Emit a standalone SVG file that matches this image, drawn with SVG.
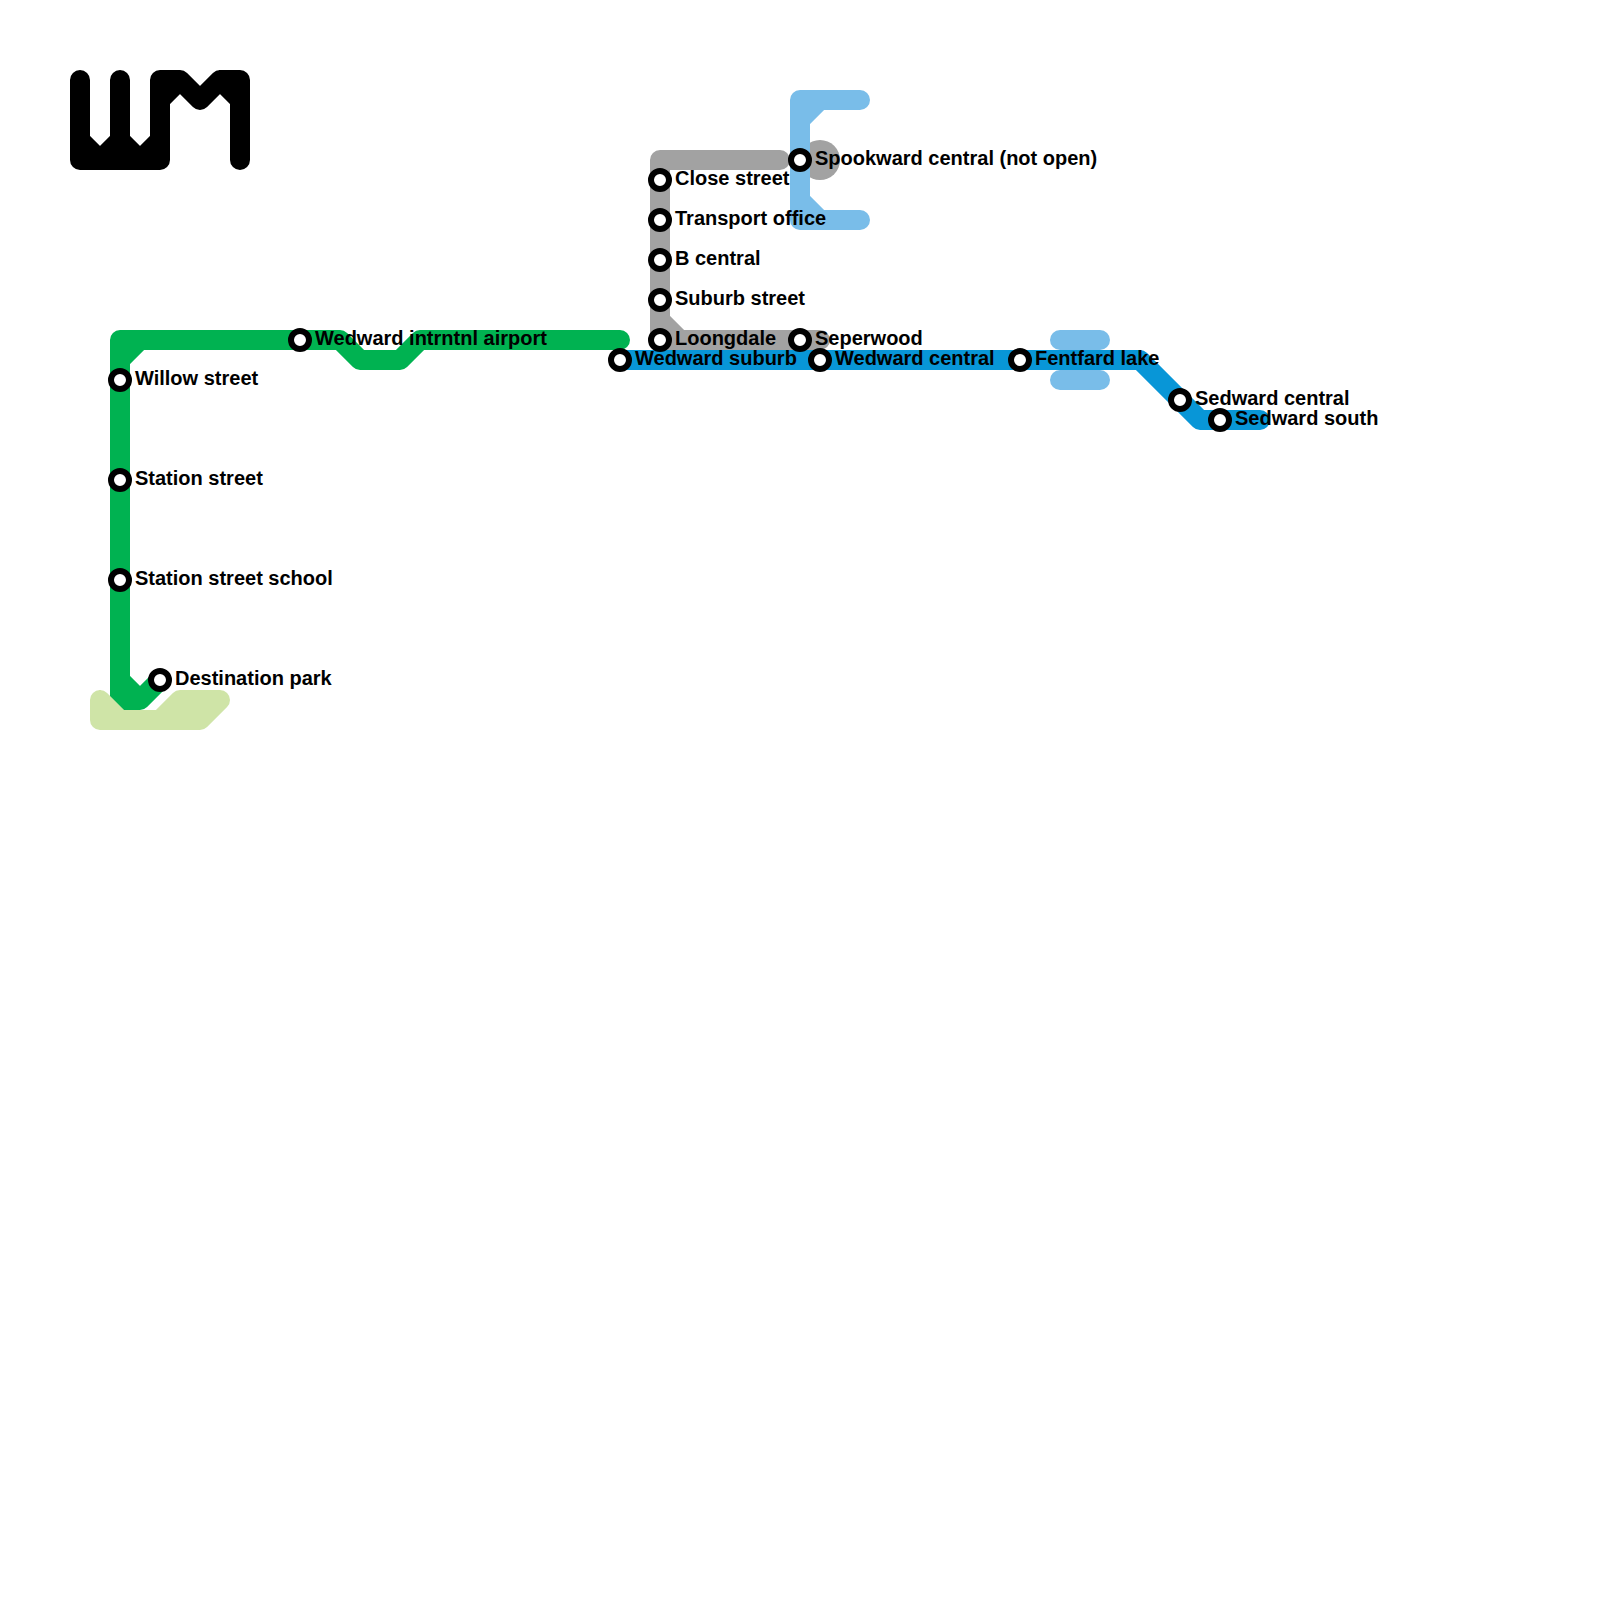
<svg xmlns="http://www.w3.org/2000/svg" width="1600" height="1600" viewBox="0 0 1600 1600">
<style>
.l{fill:none;stroke-width:20;stroke-linecap:round;stroke-linejoin:round}
.k{stroke:#000}.g{stroke:#00b251}.y{stroke:#a2a2a2}.b{stroke:#79bde9}.d{stroke:#0896d7}.p{stroke:#cfe4a7}
.s{fill:#fff;stroke:#000;stroke-width:6}
text{font-family:"Liberation Sans",Arial,sans-serif;font-weight:700;font-size:20px;fill:#000}
</style>
<rect width="1600" height="1600" fill="#fff"/>
<g id="connectors">
<path class="l k" d="M80 80V160H160V80H180L200 100L220 80H240V160M120 80V160M80 140L100 160L120 140L140 160L160 140M160 100L180 80M240 100L220 80"/>
<path class="l g" d="M620 340H420L400 360H360L340 340H120V700H140L160 680M120 680L140 700M120 360L140 340"/>
<path class="l p" d="M100 700V720H200L220 700H180L160 720M100 700L120 720"/>
<circle cx="820" cy="160" r="20" fill="#a2a2a2"/>
<path class="l y" d="M780 160H660V340H820M660 320L680 340"/>
<path class="l b" d="M860 100H800V220H860M800 120L820 100M800 200L820 220"/>
<path class="l b" d="M1060 340H1100M1060 380H1100"/>
<path class="l d" d="M620 360H1140L1200 420H1260"/>
</g>
<g id="n-willow"><circle class="s" cx="120" cy="380" r="9"/><text x="135" y="385">Willow street</text></g>
<g id="n-station"><circle class="s" cx="120" cy="480" r="9"/><text x="135" y="485">Station street</text></g>
<g id="n-school"><circle class="s" cx="120" cy="580" r="9"/><text x="135" y="585">Station street school</text></g>
<g id="n-park"><circle class="s" cx="160" cy="680" r="9"/><text x="175" y="685">Destination park</text></g>
<g id="n-airport"><circle class="s" cx="300" cy="340" r="9"/><text x="315" y="345">Wedward intrntnl airport</text></g>
<g id="n-suburb"><circle class="s" cx="620" cy="360" r="9"/><text x="635" y="365">Wedward suburb</text></g>
<g id="n-close"><circle class="s" cx="660" cy="180" r="9"/><text x="675" y="185">Close street</text></g>
<g id="n-transport"><circle class="s" cx="660" cy="220" r="9"/><text x="675" y="225">Transport office</text></g>
<g id="n-bcentral"><circle class="s" cx="660" cy="260" r="9"/><text x="675" y="265">B central</text></g>
<g id="n-suburbst"><circle class="s" cx="660" cy="300" r="9"/><text x="675" y="305">Suburb street</text></g>
<g id="n-loongdale"><circle class="s" cx="660" cy="340" r="9"/><text x="675" y="345">Loongdale</text></g>
<g id="n-spookward"><circle class="s" cx="800" cy="160" r="9"/><text x="815" y="165">Spookward central (not open)</text></g>
<g id="n-seperwood"><circle class="s" cx="800" cy="340" r="9"/><text x="815" y="345">Seperwood</text></g>
<g id="n-wcentral"><circle class="s" cx="820" cy="360" r="9"/><text x="835" y="365">Wedward central</text></g>
<g id="n-fentfard"><circle class="s" cx="1020" cy="360" r="9"/><text x="1035" y="365">Fentfard lake</text></g>
<g id="n-scentral"><circle class="s" cx="1180" cy="400" r="9"/><text x="1195" y="405">Sedward central</text></g>
<g id="n-ssouth"><circle class="s" cx="1220" cy="420" r="9"/><text x="1235" y="425">Sedward south</text></g>
</svg>
